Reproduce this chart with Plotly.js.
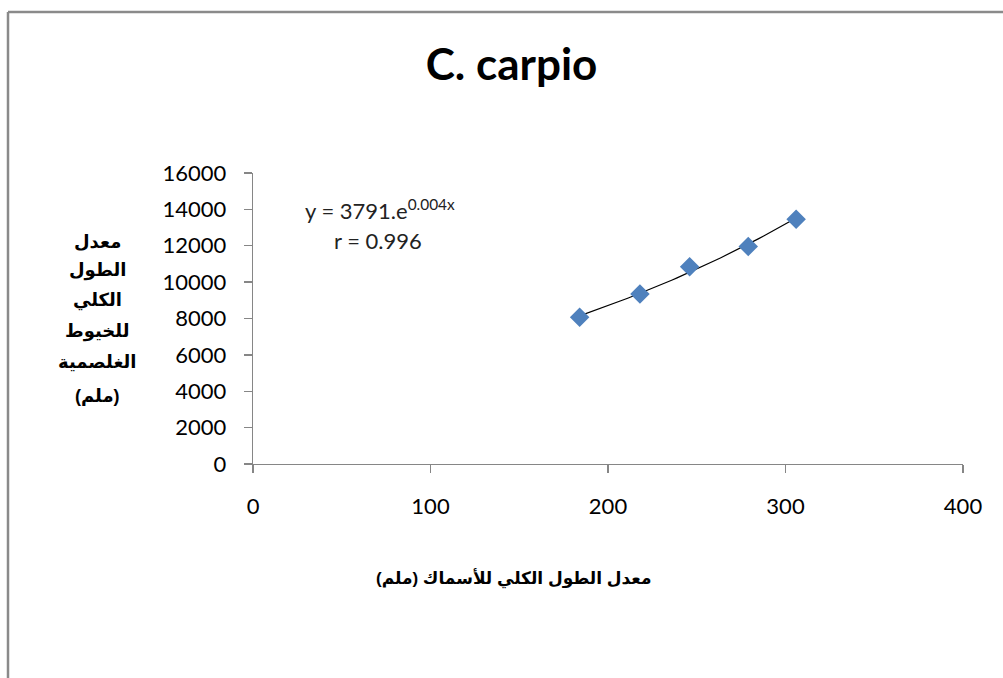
<!DOCTYPE html>
<html>
<head>
<meta charset="utf-8">
<script src="https://cdn.plot.ly/plotly-3.0.1.min.js"></script>
<style>
  html, body { margin: 0; padding: 0; background: #fff; }
  #chart { width: 1003px; height: 678px; }
</style>
</head>
<body>
<div id="chart"></div>
<script>
// Data
const fishLength = [184, 218, 246, 279, 306];          // معدل الطول الكلي للأسماك (ملم)
const filamentLength = [8070, 9350, 10850, 11960, 13460]; // معدل الطول الكلي للخيوط الغلصمية (ملم)
const xTicks = [0, 100, 200, 300, 400];
const yTicks = [0, 2000, 4000, 6000, 8000, 10000, 12000, 14000, 16000];
const chartTitle = 'C. carpio';
const xTitle = 'معدل الطول الكلي للأسماك (ملم)';
const yTitleLines = ['معدل', 'الطول', 'الكلي', 'للخيوط', 'الغلصمية', '(ملم)'];
const equationText = 'y = 3791.e<sup>0.004x</sup>';
const rText = 'r = 0.996';

// Exponential trendline: least-squares fit of ln(y) on x
const n = fishLength.length;
const lny = filamentLength.map(v => Math.log(v));
const mx = fishLength.reduce((a, b) => a + b, 0) / n;
const my = lny.reduce((a, b) => a + b, 0) / n;
let sxy = 0, sxx = 0;
for (let i = 0; i < n; i++) { sxy += (fishLength[i] - mx) * (lny[i] - my); sxx += (fishLength[i] - mx) ** 2; }
const b = sxy / sxx, lnA = my - b * mx;
const xMin = Math.min(...fishLength), xMax = Math.max(...fishLength);
const trendX = [], trendY = [];
for (let k = 0; k <= 40; k++) {
  const xv = xMin + (xMax - xMin) * k / 40;
  trendX.push(xv); trendY.push(Math.exp(lnA + b * xv));
}

const axisColor = '#868686';
const tickFont = { family: 'Lato, "Open Sans", sans-serif', size: 22, color: '#000' };
const arFont = { family: 'Arial, "Liberation Sans", "DejaVu Sans", sans-serif', size: 18, color: '#000', weight: 'bold' };
const arFontX = { family: 'Arial, "Liberation Sans", "DejaVu Sans", sans-serif', size: 17, color: '#000', weight: 'bold' };
const eqFont = { family: 'Lato, "Open Sans", sans-serif', size: 22, color: '#222' };

const traces = [
  { x: trendX, y: trendY, mode: 'lines', line: { color: '#000', width: 1.2 }, hoverinfo: 'skip', showlegend: false },
  { x: fishLength, y: filamentLength, mode: 'markers', type: 'scatter',
    marker: { symbol: 'diamond', size: 15, color: '#4F81BD' }, showlegend: false }
];

const L = 253, R = 963, T = 173, B = 464;
const W = 1003, H = 678;
const px2x = p => (p - L) / (R - L);
const px2y = p => (B - p) / (B - T);

const yLineCenters = [242, 270, 300, 331, 362, 396];
const annotations = [
  { xref: 'paper', yref: 'paper', x: px2x(380), y: px2y(209), text: equationText, showarrow: false,
    font: eqFont, xanchor: 'center', yanchor: 'middle' },
  { xref: 'paper', yref: 'paper', x: px2x(378), y: px2y(240), text: rText, showarrow: false,
    font: eqFont, xanchor: 'center', yanchor: 'middle' },
  { xref: 'paper', yref: 'paper', x: px2x(514), y: px2y(578), text: xTitle, showarrow: false,
    font: arFontX, xanchor: 'center', yanchor: 'middle' }
];
yTitleLines.forEach((t, i) => {
  annotations.push({ xref: 'paper', yref: 'paper', x: px2x(97), y: px2y(yLineCenters[i]), text: t, showarrow: false,
    font: arFont, xanchor: 'center', yanchor: 'middle' });
});

const shapes = [
  { type: 'line', xref: 'paper', yref: 'paper', x0: px2x(8), x1: px2x(1010), y0: px2y(12), y1: px2y(12),
    line: { color: '#8a8a8a', width: 2.5 } },
  { type: 'line', xref: 'paper', yref: 'paper', x0: px2x(8), x1: px2x(8), y0: px2y(12), y1: px2y(690),
    line: { color: '#8a8a8a', width: 2.5 } }
];

const layout = {
  width: W, height: H,
  margin: { l: L, r: W - R, t: T, b: H - B },
  paper_bgcolor: '#fff', plot_bgcolor: '#fff',
  title: { text: '<b>' + chartTitle + '</b>', x: 0.51, xref: 'container', y: 1 - 65 / H, yref: 'container',
    xanchor: 'center', yanchor: 'middle', font: { family: 'Lato, "Open Sans", sans-serif', size: 44, color: '#000' } },
  xaxis: { range: [0, 400], tickvals: xTicks, ticktext: xTicks.map(String), showgrid: false, zeroline: false,
    showline: true, linecolor: axisColor, linewidth: 1.3, ticks: 'outside', ticklen: 8, tickcolor: axisColor, tickwidth: 1.3,
    tickfont: tickFont, ticklabelstandoff: 14, fixedrange: true },
  yaxis: { range: [0, 16000], tickvals: yTicks, ticktext: yTicks.map(String), showgrid: false, zeroline: false,
    showline: true, linecolor: axisColor, linewidth: 1.3, ticks: 'outside', ticklen: 8, tickcolor: axisColor, tickwidth: 1.3,
    tickfont: tickFont, ticklabelstandoff: 13, fixedrange: true },
  annotations: annotations,
  shapes: shapes,
  showlegend: false
};

Plotly.newPlot('chart', traces, layout, { displayModeBar: false, staticPlot: true });
</script>
</body>
</html>
